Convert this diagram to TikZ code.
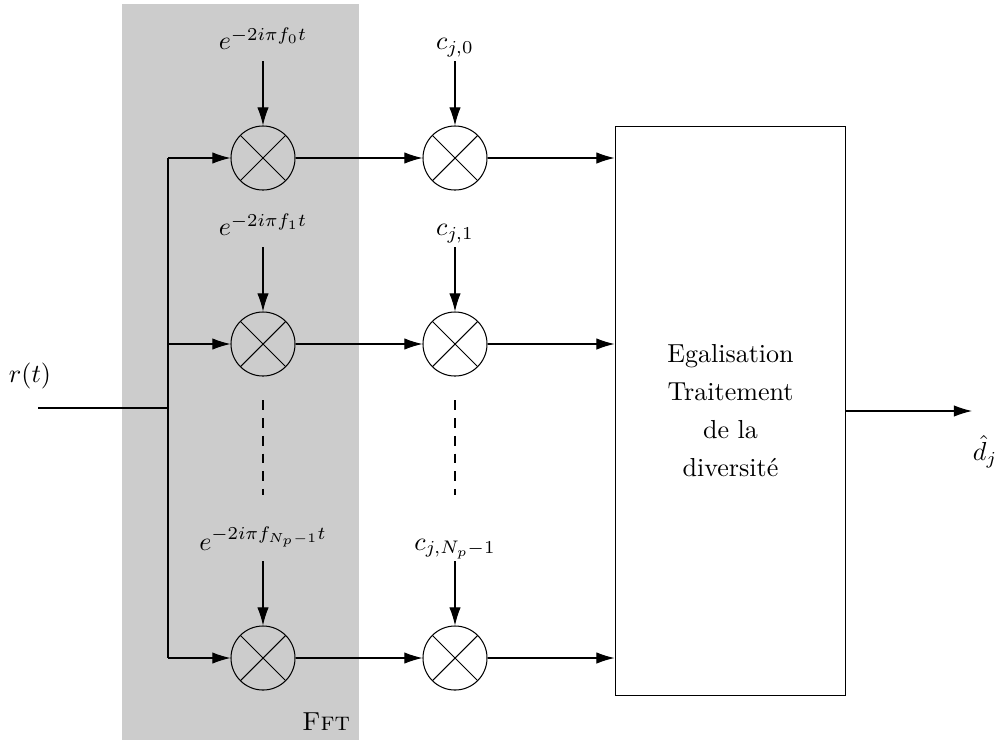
\documentclass[tikz,border=0pt]{standalone}
\usepackage{amsmath}
\usetikzlibrary{arrows.meta, positioning, calc}
\definecolor{fftbg}{HTML}{CCCCCC}

\begin{document}
\begin{tikzpicture}[
  x=0.0135cm, y=-0.0135cm,
  mixer/.style={circle, draw, minimum size=24.6pt, inner sep=0pt,
                path picture={\draw (path picture bounding box.north west) -- (path picture bounding box.south east)
                                    (path picture bounding box.south west) -- (path picture bounding box.north east);}},
  coef/.style={inner sep=1.7pt, text depth=2.5pt},
  block/.style={rectangle, draw, minimum width=88.7pt, minimum height=218.9pt,
                align=center},
  arr/.style={-{Latex[length=7pt, width=4.4pt]}},
  dotline/.style={dash pattern=on 3.8pt off 3pt}
]
  \useasboundingbox (0,0) rectangle (997,740);

  % bloc FFT
  \fill[fftbg] (122,4) rectangle (359,740);
  \node (fft) at (326,722) {\textsc{Fft}};

  % multiplieurs
  \node[mixer] (m0) at (263,158) {};
  \node[mixer] (m1) at (263,344) {};
  \node[mixer] (m2) at (263,658) {};
  \node[mixer] (c0) at (455,158) {};
  \node[mixer] (c1) at (455,344) {};
  \node[mixer] (c2) at (455,658) {};

  \node[coef, above=24.6pt of m0] (e0) {$e^{-2i\pi f_0 t}$};
  \node[coef, above=24.6pt of m1] (e1) {$e^{-2i\pi f_1 t}$};
  \node[coef, above=24.6pt of m2] (e2) {$e^{-2i\pi f_{N_p-1} t}$};
  \node[coef, above=24.6pt of c0] (k0) {$c_{j,0}$};
  \node[coef, above=24.6pt of c1] (k1) {$c_{j,1}$};
  \node[coef, above=24.6pt of c2] (k2) {$c_{j,N_p-1}$};

  \node[block] (eg) at (730.5,411) {Egalisation\\[2.6pt] Traitement\\[2.6pt] de la\\[2.6pt] diversit\'e};

  \coordinate (in)  at (38,408);
  \coordinate (bus) at (168,408);
  \coordinate (out) at (972,411);
  \node (r) at (30,376) {$r(t)$};
  \node (d) at (985,452) {$\hat{d}_j$};

  % entree et bus
  \draw (in) -- (bus);
  \draw (bus |- m0) -- (bus |- m2);
  \foreach \i in {0,1,2} {
    \draw[arr] (bus |- m\i) -- (m\i);
    \draw[arr] (e\i) -- (m\i);
    \draw[arr] (k\i) -- (c\i);
    \draw[arr] (m\i) -- (c\i);
    \draw[arr] (c\i) -- (eg.west |- c\i);
  }
  \draw[arr] (eg) -- (out);

  % pointilles
  \draw[dotline] ([yshift=-9.2pt]m1.south) -- ([yshift=-45.7pt]m1.south);
  \draw[dotline] ([yshift=-9.2pt]c1.south) -- ([yshift=-45.7pt]c1.south);
\end{tikzpicture}
\end{document}
